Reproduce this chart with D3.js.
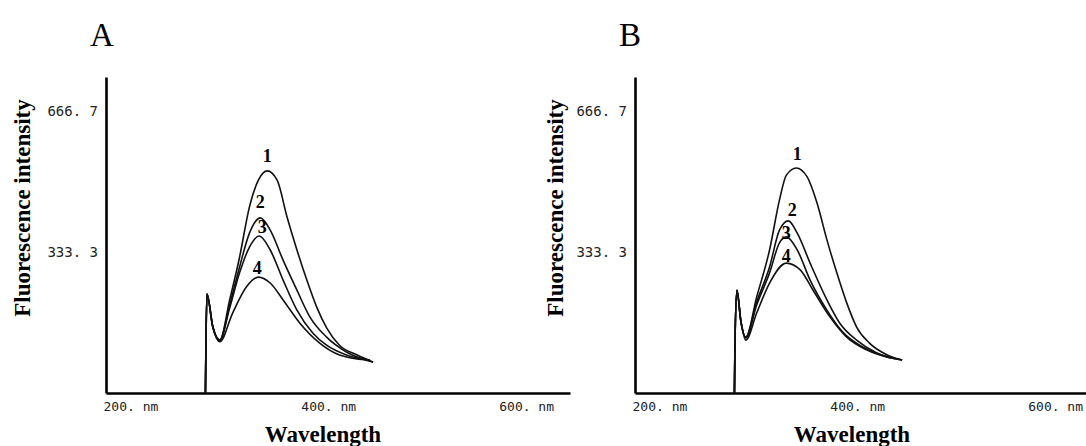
<!DOCTYPE html>
<html>
<head>
<meta charset="utf-8">
<script src="https://cdn.jsdelivr.net/npm/d3@7"></script>
<style>
  body { margin: 0; background: #fff; }
  svg { display: block; }
</style>
</head>
<body>
<div id="chart"></div>
<script>
// tick values
var wavelengthTicks = [200, 400, 600];
var intensityTicks = [333.3, 666.7];
var curveNames = ["1", "2", "3", "4"];

// excitation scatter spike, shared by all curves of a panel
var spikeA = [[300.5, 0], [301, 110], [302, 234], [308, 156]];
var spikeB = [[300.5, 0], [301, 110], [303, 243], [307, 170]];

// panel A spectra [wavelength nm, intensity]
var a1 = [[315, 125], [325, 220], [335, 321], [345, 440], [354, 503], [363, 525], [373, 503], [383, 416], [393, 338], [403, 267], [413, 203], [423, 154], [436, 113], [454, 90], [470, 73]];
var a2 = [[315, 125], [325, 208], [335, 298], [345, 378], [356, 414], [366, 385], [379, 314], [393, 243], [406, 180], [423, 132], [443, 97], [470, 73]];
var a3 = [[315, 124], [325, 201], [335, 284], [345, 345], [355, 371], [366, 338], [379, 267], [393, 196], [409, 142], [423, 113], [443, 90], [467, 78]];
var a4 = [[315, 121], [328, 189], [342, 251], [354, 274], [366, 260], [379, 220], [396, 165], [416, 118], [436, 90], [464, 78]];

// panel B spectra
var b1 = [[312, 132], [323, 227], [336, 338], [346, 456], [353, 515], [363, 532], [374, 511], [384, 449], [394, 362], [404, 284], [414, 213], [424, 156], [437, 118], [455, 90], [470, 78]];
var b2 = [[312, 132], [323, 215], [336, 298], [346, 385], [355, 407], [364, 378], [377, 307], [394, 220], [407, 165], [424, 125], [444, 95], [470, 78]];
var b3 = [[312, 130], [323, 208], [336, 284], [346, 355], [353, 369], [364, 338], [377, 267], [394, 196], [410, 144], [430, 109], [455, 85], [470, 78]];
var b4 = [[312, 125], [323, 189], [336, 260], [353, 307], [367, 291], [380, 243], [397, 180], [414, 132], [434, 102], [458, 83]];

// curve number labels [wavelength, intensity]
var labelsA = [[363, 560], [356, 452], [358, 394], [353, 296]];
var labelsB = [[364, 566], [359, 434], [353, 380], [353, 325]];

var W = 1086, H = 446;
var svg = d3.select("#chart").append("svg")
	.attr("width", W)
	.attr("height", H);

function drawPanel(ox, name, spike, curves, labels, titleX) {
	var x = d3.scaleLinear().domain([200, 669]).range([ox, ox + 464]);
	var y = d3.scaleLinear().domain([0, 747]).range([393, 77]);
	var g = svg.append("g");

	// panel letter
	g.append("text")
		.attr("x", ox - 16)
		.attr("y", 46)
		.style("font-family", "'Liberation Serif', serif")
		.style("font-size", "33px")
		.text(name);

	// x axis
	var xa = g.append("g")
		.attr("transform", "translate(0,393)")
		.call(d3.axisBottom(x).tickValues(wavelengthTicks).tickSize(0).tickPadding(9)
			.tickFormat(function(d) { return d + ". nm"; }));
	xa.select(".domain").attr("stroke", "#000").attr("stroke-width", 2.6);
	xa.selectAll("text")
		.attr("text-anchor", "start")
		.attr("dx", -3)
		.style("font-family", "'DejaVu Sans Mono', monospace")
		.style("font-size", "13px")
		.attr("fill", "#222");

	// y axis
	var ya = g.append("g")
		.attr("transform", "translate(" + ox + ",0)")
		.call(d3.axisLeft(y).tickValues(intensityTicks).tickSize(0).tickPadding(8)
			.tickFormat(function(d) { return d3.format(".1f")(d).replace(".", ". "); }));
	ya.select(".domain").attr("stroke", "#000").attr("stroke-width", 2.6);
	ya.selectAll("text")
		.style("font-family", "'DejaVu Sans Mono', monospace")
		.style("font-size", "14px")
		.attr("fill", "#222");

	// titles
	g.append("text")
		.attr("x", ox + 217)
		.attr("y", 442)
		.attr("text-anchor", "middle")
		.style("font-family", "'Liberation Serif', serif")
		.style("font-weight", "bold")
		.style("font-size", "23px")
		.text("Wavelength");
	g.append("text")
		.attr("transform", "translate(" + titleX + ",208) rotate(-90)")
		.attr("text-anchor", "middle")
		.style("font-family", "'Liberation Serif', serif")
		.style("font-weight", "bold")
		.style("font-size", "23px")
		.text("Fluorescence intensity");

	var line = d3.line()
		.x(function(d) { return x(d[0]); })
		.y(function(d) { return y(d[1]); })
		.curve(d3.curveMonotoneX);

	g.selectAll("path.spec")
		.data(curves)
		.enter()
		.append("path")
		.attr("class", "spec")
		.attr("d", function(d) { return line(spike.concat(d)); })
		.attr("fill", "none")
		.attr("stroke", "#111")
		.attr("stroke-width", 1.6);

	g.selectAll("text.lab")
		.data(labels)
		.enter()
		.append("text")
		.attr("class", "lab")
		.attr("x", function(d) { return x(d[0]); })
		.attr("y", function(d) { return y(d[1]); })
		.attr("dy", "0.35em")
		.attr("text-anchor", "middle")
		.style("font-family", "'Liberation Serif', serif")
		.style("font-weight", "bold")
		.style("font-size", "18px")
		.text(function(d, i) { return curveNames[i]; });
}

drawPanel(106, "A", spikeA, [a1, a2, a3, a4], labelsA, 30);
drawPanel(635, "B", spikeB, [b1, b2, b3, b4], labelsB, 563);
</script>
</body>
</html>
